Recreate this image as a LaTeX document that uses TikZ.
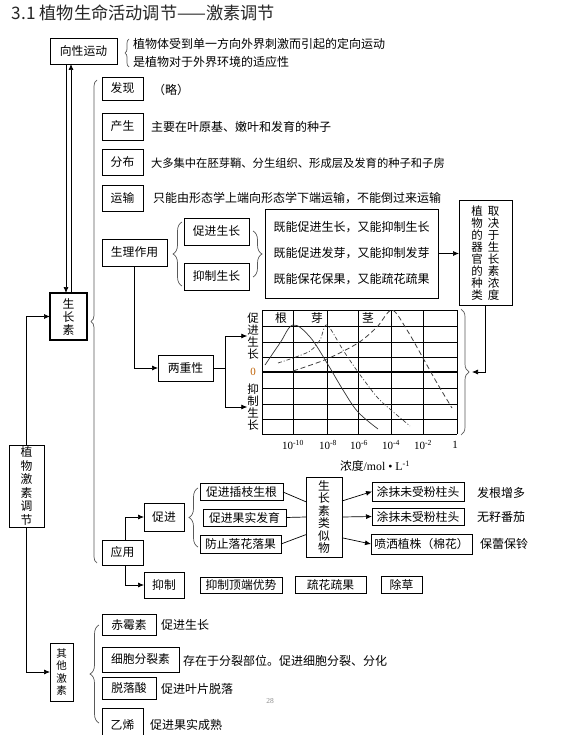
\documentclass[tikz,border=0pt]{standalone}
\usepackage{fontspec}
\setmainfont{Noto Sans CJK SC}
\newfontfamily\tnr{Liberation Serif}
\usetikzlibrary{arrows.meta,decorations.pathreplacing,calc}
\begin{document}
\begin{tikzpicture}[x=1pt,y=-1pt,
 every node/.style={inner sep=0pt, outer sep=0pt},
 box/.style={draw, line width=0.7pt, font=\fontsize{11.8}{13}\selectfont},
 txt/.style={anchor=west, font=\fontsize{12}{13}\selectfont},
 vt/.style={align=center, font=\fontsize{11.5}{12}\selectfont},
 arr/.style={-{Latex[length=6pt,width=5pt]}, line width=0.7pt},
 ln/.style={line width=0.7pt},
 brc/.style={decorate, decoration={brace, amplitude=#1}, line width=0.7pt, draw=black!65},
 brc/.default=9pt,
 gridl/.style={line width=0.6pt},
 xl/.style={font=\tnr\fontsize{11}{12}\selectfont},
]
\clip (0,0) rectangle (585,735);
\fill[white] (0,0) rectangle (585,735);
\coordinate (c66) at (66,0);
\coordinate (c71) at (71,0);
\coordinate (c125) at (125,0);

% title
\node[anchor=west, font=\fontsize{17.2}{19}\selectfont, text=black!85] (title) at (12,13) {3.1 植物生命活动调节——激素调节};

% tropism
\node[box, minimum width=67, minimum height=26] (xiang) at (83.5,51) {向性运动};
\draw[brc=4pt] (129,67) -- (129,39);
\node[txt] (xd1) at (133,43.5) {植物体受到单一方向外界刺激而引起的定向运动};
\node[txt] (xd2) at (133,61.5) {是植物对于外界环境的适应性};

% left column
\node[box, line width=1.5pt, minimum width=37, minimum height=47, align=center, font=\fontsize{11.8}{13}\selectfont] (szs) at (68.5,316.5) {生\\长\\素};
\node[box, minimum width=35, minimum height=82, align=center, font=\fontsize{11.8}{13.5}\selectfont] (zwjs) at (26.5,486) {植\\物\\激\\素\\调\\节};
\node[box, minimum width=23, minimum height=58, align=center, font=\fontsize{10.5}{12.3}\selectfont] (qtjs) at (61.5,672) {其\\他\\激\\素};

\draw[arr] (xiang.south -| c66) -- (szs.north -| c66);
\draw[arr] (szs.north -| c71) -- (xiang.south -| c71);
\draw[arr] (zwjs.north) |- (szs.west);
\draw[arr] (zwjs.south) |- (qtjs.west);

% auxin brace
\draw[brc=6pt] (97,563) -- (97,80);

\node[box, minimum width=41, minimum height=23] (fx) at (122.5,88.5) {发现};
\node[txt] (fxd) at (153,90) {（略）};
\node[box, minimum width=41, minimum height=27] (cs) at (122.5,126.5) {产生};
\node[txt] (csd) at (151,127) {主要在叶原基、嫩叶和发育的种子};
\node[box, minimum width=41, minimum height=26] (fb) at (122.5,162) {分布};
\node[txt, font=\fontsize{11.3}{13}\selectfont] (fbd) at (151,163) {大多集中在胚芽鞘、分生组织、形成层及发育的种子和子房};
\node[box, minimum width=41, minimum height=26] (ys) at (122.5,198) {运输};
\node[txt] (ysd) at (153,198) {只能由形态学上端向形态学下端运输，不能倒过来运输};

% physiological action
\node[box, minimum width=65, minimum height=27] (slzy) at (134.5,252.5) {生理作用};
\draw[brc] (182,286) -- (182,222);
\node[box, minimum width=65, minimum height=27] (cjsz) at (216.5,231.5) {促进生长};
\node[box, minimum width=65, minimum height=27] (yzsz) at (216.5,276.5) {抑制生长};
\draw[brc] (253,231) -- (253,277);
\node[box, minimum width=173, minimum height=89, align=left, font=\fontsize{12}{26}\selectfont] (jnbox) at (351.5,253.5) {既能促进生长，又能抑制生长\\既能促进发芽，又能抑制发芽\\既能保花保果，又能疏花疏果};
\node[box, minimum width=53, minimum height=105] (qjy) at (485.5,252.5) {};
\node[vt] (qjyA) at (477,253) {植\\物\\的\\器\\官\\的\\种\\类};
\node[vt] (qjyB) at (493.5,253) {取\\决\\于\\生\\长\\素\\浓\\度};
\draw[arr] (jnbox.east) -- (jnbox.east -| qjy.west);

% dual nature
\node[box, minimum width=55, minimum height=26] (lcx) at (185.5,368) {两重性};
\draw[arr] (slzy.south) |- (lcx.west);
\node[vt] (ylup) at (253,336) {促\\进\\生\\长};
\node[font=\tnr\fontsize{11}{12}\selectfont, text=orange!75!black] (yl0) at (253,372) {0};
\node[vt] (yldn) at (253,407) {抑\\制\\生\\长};
\coordinate (jn) at (225,368);
\draw[ln] (lcx.east) -- (jn);
\draw[arr] (jn) |- (ylup.west);
\draw[arr] (jn) |- (yldn.west);

% graph grid
\foreach \x in {262,293,327,358,391,423,457} \draw[gridl] (\x,310) -- (\x,434);
\foreach \y in {310,326,342,357,388,404,419,434} \draw[gridl] (262,\y) -- (457,\y);
\draw[line width=1.3pt] (262,372) -- (457,372);
\node[font=\fontsize{11.8}{12}\selectfont] (lg) at (281,318) {根};
\node[font=\fontsize{11.8}{12}\selectfont] (ly) at (317,318) {芽};
\node[font=\fontsize{11.8}{12}\selectfont] (lj) at (368,318) {茎};
% curves
\draw[line width=0.7pt, black!80] plot[smooth, tension=0.6] coordinates {(265,365) (280,343) (293,325) (310,337) (327,363) (343,390) (358,412) (378,429)};
\draw[line width=0.7pt, black!75, dash pattern=on 4pt off 2pt on 1pt off 2pt] plot[smooth, tension=0.5] coordinates {(278,363) (293,358) (310,351) (320,340) (327,325) (343,350) (358,372) (377,397) (391,410) (410,426)};
\draw[line width=0.8pt, black!75, dash pattern=on 5pt off 3pt] plot[smooth, tension=0.5] coordinates {(293,371) (327,359) (358,343) (377,327) (392,310) (407,330) (423,358) (437,383) (452,408)};
% x labels
\node[xl] (x1) at (293,445) {10\textsuperscript{-10}};
\node[xl] (x2) at (328,445) {10\textsuperscript{-8}};
\node[xl] (x3) at (359,445) {10\textsuperscript{-6}};
\node[xl] (x4) at (391,445) {10\textsuperscript{-4}};
\node[xl] (x5) at (423,445) {10\textsuperscript{-2}};
\node[xl] (x6) at (455,445) {1};
\node[font=\fontsize{11.8}{12}\selectfont] (xu) at (375,466) {浓度{\tnr /mol • L\textsuperscript{-1}}};
% right brace of graph
\draw[brc=8pt] (461,309) -- (461,435);
\coordinate (gtip) at (472,372);
\draw[arr] (qjy.south) |- (gtip);

% application
\node[box, minimum width=41, minimum height=25] (yy) at (122.5,552.5) {应用};
\node[box, minimum width=40, minimum height=28] (cj) at (164,517) {促进};
\node[box, minimum width=40, minimum height=26] (yz) at (164,585) {抑制};
\draw[arr] (yy.north -| c125) |- (cj.west);
\draw[arr] (yy.south -| c125) |- (yz.west);
\draw[brc] (198,547) -- (198,488);
\node[box, minimum width=83, minimum height=17] (b1) at (241.5,492) {促进插枝生根};
\node[box, minimum width=83, minimum height=17] (b2) at (244.5,517.5) {促进果实发育};
\node[box, minimum width=81, minimum height=18] (b3) at (240.5,544) {防止落花落果};
\node[box, minimum width=36, minimum height=80, align=center, font=\fontsize{11.8}{12.4}\selectfont] (lsw) at (324,517) {生\\长\\素\\类\\似\\物};
\coordinate (l1) at ($(lsw.north west)!0.31!(lsw.south west)$);
\coordinate (l2) at ($(lsw.north west)!0.5!(lsw.south west)$);
\coordinate (l3) at ($(lsw.north west)!0.72!(lsw.south west)$);
\coordinate (r1) at ($(lsw.north east)!0.3!(lsw.south east)$);
\coordinate (r2) at ($(lsw.north east)!0.5!(lsw.south east)$);
\coordinate (r3) at ($(lsw.north east)!0.76!(lsw.south east)$);
\draw[ln] (b1.east) -- (l1);
\draw[ln] (b2.east) -- (l2);
\draw[ln] (b3.east) -- (l3);
\node[box, minimum width=92, minimum height=19] (c1) at (418,491.5) {涂抹未受粉柱头};
\node[box, minimum width=92, minimum height=17] (c2) at (418,516.5) {涂抹未受粉柱头};
\node[box, minimum width=101, minimum height=20] (c3) at (421.5,544) {喷洒植株（棉花）};
\draw[arr] (r1) -- (c1.west);
\draw[arr] (r2) -- (c2.west);
\draw[arr] (r3) -- (c3.west);
\node[txt] (c1d) at (477,492.5) {发根增多};
\node[txt] (c2d) at (477,517) {无籽番茄};
\node[txt] (c3d) at (480,544) {保蕾保铃};
\node[box, minimum width=82, minimum height=16] (d1) at (241,585) {抑制顶端优势};
\node[box, minimum width=71, minimum height=17] (d2) at (330.5,584.5) {疏花疏果};
\node[box, minimum width=41, minimum height=17] (d3) at (401.5,584.5) {除草};

% other hormones
\draw[brc] (99,723) -- (99,625);
\node[box, minimum width=54, minimum height=21] (o1) at (129,624.5) {赤霉素};
\node[txt] (o1d) at (161,625) {促进生长};
\node[box, minimum width=77, minimum height=25] (o2) at (140.5,659.5) {细胞分裂素};
\node[txt] (o2d) at (183,661) {存在于分裂部位。促进细胞分裂、分化};
\node[box, minimum width=54, minimum height=22] (o3) at (129,688) {脱落酸};
\node[txt] (o3d) at (161,689) {促进叶片脱落};
\node[box, minimum width=41, minimum height=34] (o4) at (122.5,725) {乙烯};
\node[txt] (o4d) at (150,725) {促进果实成熟};
\node[font=\tnr\fontsize{7.5}{8}\selectfont, text=black!45] (pg) at (270,701) {28};
\end{tikzpicture}
\end{document}
